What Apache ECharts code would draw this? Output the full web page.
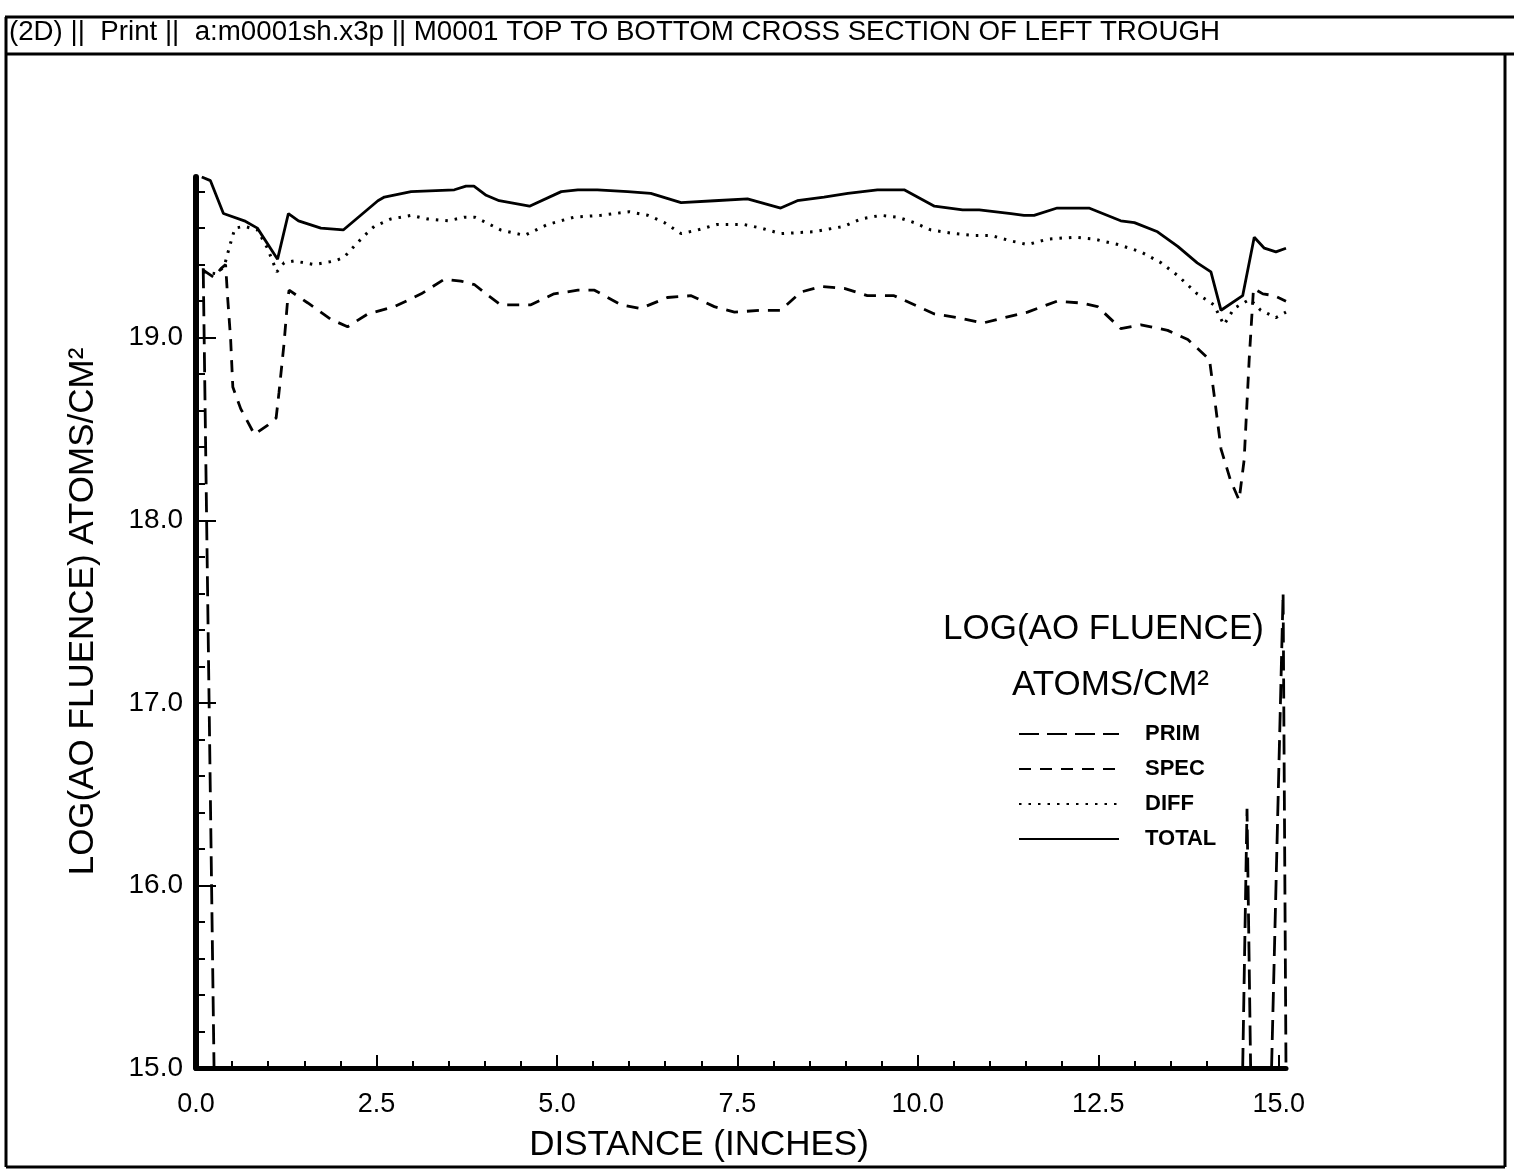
<!DOCTYPE html>
<html>
<head>
<meta charset="utf-8">
<script src="https://cdn.jsdelivr.net/npm/echarts@6/dist/echarts.min.js"></script>
<style>
html,body{margin:0;padding:0;background:#fff;}
#chart{width:1514px;height:1172px;}
</style>
</head>
<body>
<div id="chart"></div>
<script>
// ---- tick labels ----
const xMajorTicks = [0, 2.5, 5, 7.5, 10, 12.5, 15];
const xMinorTicks = [0.5,1,1.5,2,3,3.5,4,4.5,5.5,6,6.5,7,8,8.5,9,9.5,10.5,11,11.5,12,13,13.5,14,14.5];
const yMajorTicks = [15, 16, 17, 18, 19];
const yMinorTicks = [15.2,15.4,15.6,15.8,16.2,16.4,16.6,16.8,17.2,17.4,17.6,17.8,18.2,18.4,18.6,18.8,19.2,19.4,19.6,19.8];

// ---- series values: [distance (in), log fluence] ----
const prim = [[0.1,19.38],[0.25,15.0],[0.3,'-'],[14.50,15.0],[14.56,16.42],[14.61,15.0],[14.7,'-'],[14.90,15.0],[15.06,17.6],[15.1,15.0]];
const spec = [[0.1,19.37],[0.25,19.33],[0.35,19.38],[0.41,19.40],[0.44,19.21],[0.48,18.99],[0.51,18.73],[0.62,18.61],[0.81,18.47],[0.99,18.52],[1.11,18.56],[1.15,18.70],[1.22,18.97],[1.27,19.21],[1.29,19.26],[1.55,19.19],[1.87,19.10],[2.10,19.06],[2.38,19.13],[2.75,19.17],[3.12,19.24],[3.44,19.32],[3.67,19.31],[3.86,19.29],[4.05,19.23],[4.22,19.18],[4.64,19.18],[4.96,19.24],[5.29,19.26],[5.52,19.26],[5.89,19.18],[6.16,19.16],[6.53,19.22],[6.86,19.23],[7.18,19.17],[7.46,19.14],[7.83,19.15],[8.10,19.15],[8.38,19.25],[8.66,19.28],[8.98,19.27],[9.30,19.23],[9.67,19.23],[9.95,19.18],[10.23,19.13],[10.55,19.11],[10.90,19.08],[11.20,19.11],[11.52,19.14],[11.93,19.20],[12.26,19.19],[12.49,19.17],[12.81,19.05],[13.09,19.07],[13.46,19.04],[13.74,18.99],[14.04,18.88],[14.10,18.70],[14.20,18.39],[14.33,18.22],[14.45,18.11],[14.52,18.33],[14.59,18.88],[14.65,19.27],[14.78,19.24],[14.94,19.23],[15.1,19.20]];
const diff = [[0.1,19.36],[0.28,19.35],[0.39,19.39],[0.48,19.52],[0.54,19.60],[0.67,19.61],[0.85,19.59],[0.99,19.49],[1.12,19.36],[1.22,19.41],[1.36,19.42],[1.64,19.40],[1.92,19.42],[2.05,19.44],[2.19,19.50],[2.31,19.55],[2.47,19.61],[2.70,19.65],[2.98,19.67],[3.21,19.65],[3.49,19.64],[3.72,19.66],[3.86,19.66],[3.97,19.64],[4.22,19.59],[4.55,19.56],[4.87,19.62],[5.24,19.66],[5.61,19.67],[6.00,19.69],[6.26,19.67],[6.49,19.63],[6.72,19.57],[6.95,19.59],[7.22,19.62],[7.59,19.62],[7.83,19.60],[8.10,19.57],[8.56,19.58],[8.98,19.61],[9.21,19.65],[9.49,19.67],[9.72,19.66],[9.95,19.63],[10.18,19.59],[10.50,19.57],[10.78,19.56],[11.01,19.56],[11.29,19.53],[11.52,19.51],[11.80,19.54],[12.17,19.55],[12.44,19.54],[12.77,19.51],[13.09,19.47],[13.37,19.41],[13.60,19.34],[13.87,19.24],[14.10,19.18],[14.24,19.07],[14.38,19.16],[14.60,19.21],[14.75,19.15],[14.96,19.11],[15.1,19.14]];
const total = [[0.08,19.88],[0.2,19.86],[0.38,19.68],[0.67,19.64],[0.85,19.60],[1.13,19.43],[1.28,19.68],[1.42,19.64],[1.73,19.60],[2.04,19.59],[2.52,19.75],[2.61,19.77],[2.98,19.80],[3.58,19.81],[3.74,19.83],[3.85,19.83],[4.02,19.78],[4.20,19.75],[4.62,19.72],[5.06,19.80],[5.29,19.81],[5.56,19.81],[5.98,19.80],[6.30,19.79],[6.72,19.74],[7.18,19.75],[7.64,19.76],[8.10,19.71],[8.33,19.75],[8.70,19.77],[9.03,19.79],[9.44,19.81],[9.81,19.81],[10.23,19.72],[10.62,19.70],[10.85,19.70],[11.29,19.68],[11.47,19.67],[11.61,19.67],[11.93,19.71],[12.37,19.71],[12.81,19.64],[13.00,19.63],[13.32,19.58],[13.60,19.50],[13.87,19.41],[14.06,19.36],[14.20,19.15],[14.50,19.23],[14.66,19.55],[14.80,19.49],[14.96,19.47],[15.1,19.49]];

const seriesNames = ['PRIM', 'SPEC', 'DIFF', 'TOTAL'];
const titleText = '(2D) ||  Print ||  a:m0001sh.x3p || M0001 TOP TO BOTTOM CROSS SECTION OF LEFT TROUGH';
const xName = 'DISTANCE (INCHES)';
const yName = 'LOG(AO FLUENCE) ATOMS/CM\u00B2';
const legendTitle1 = 'LOG(AO FLUENCE)';
const legendTitle2 = 'ATOMS/CM\u00B2';

const FONT = '"Liberation Sans", Arial, Helvetica, sans-serif';
const chart = echarts.init(document.getElementById('chart'), null, {renderer: 'canvas'});

function fmt(v) { return Number(v).toFixed(1); }
const NOFILL = 'rgba(0,0,0,0)';

const option = {
  backgroundColor: '#fff',
  animation: false,
  grid: {left: 196, right: 228, top: 177, bottom: 104, containLabel: false},
  xAxis: [{
    type: 'value', min: 0, max: 15.1,
    axisLine: {show: true, lineStyle: {color: '#000', width: 5}},
    axisTick: {show: true, inside: true, length: 13, customValues: xMajorTicks, lineStyle: {color: '#000', width: 2}},
    axisLabel: {show: true, customValues: xMajorTicks, formatter: fmt, margin: 23, color: '#000', fontSize: 27, fontFamily: FONT},
    splitLine: {show: false},
    name: xName, nameLocation: 'middle', nameGap: 60,
    nameTextStyle: {color: '#000', fontSize: 35, fontFamily: FONT, padding: [0, 84, 0, 0]}
  }, {
    type: 'value', min: 0, max: 15.1, position: 'bottom',
    axisLine: {show: false},
    axisTick: {show: true, inside: true, length: 7, customValues: xMinorTicks, lineStyle: {color: '#000', width: 2}},
    axisLabel: {show: false},
    splitLine: {show: false}
  }],
  yAxis: [{
    type: 'value', min: 15, max: 19.88,
    axisLine: {show: true, lineStyle: {color: '#000', width: 6}},
    axisTick: {show: true, inside: true, length: 20, customValues: yMajorTicks, lineStyle: {color: '#000', width: 2}},
    axisLabel: {show: true, customValues: yMajorTicks, formatter: fmt, margin: 13, color: '#000', fontSize: 28, fontFamily: FONT},
    splitLine: {show: false},
    name: yName, nameLocation: 'middle', nameGap: 95,
    nameTextStyle: {color: '#000', fontSize: 35, fontFamily: FONT, padding: [0, 0, 0, 22]}
  }, {
    type: 'value', min: 15, max: 19.88, position: 'left',
    axisLine: {show: false},
    axisTick: {show: true, inside: true, length: 9, customValues: yMinorTicks, lineStyle: {color: '#000', width: 2}},
    axisLabel: {show: false},
    splitLine: {show: false}
  }],
  legend: {
    data: seriesNames,
    orient: 'vertical', left: 1013, top: 718,
    itemWidth: 100, itemHeight: 20, itemGap: 13,
    itemStyle: {opacity: 0},
    textStyle: {color: '#000', fontSize: 22, fontWeight: 'bold', fontFamily: FONT, padding: [0, 0, 0, 21]},
    selectedMode: false
  },
  series: [
    {name: 'PRIM', type: 'line', data: prim, symbol: 'none', connectNulls: false, itemStyle: {color: NOFILL},
     lineStyle: {color: '#000', width: 2.8, type: [20, 8]}},
    {name: 'SPEC', type: 'line', data: spec, symbol: 'none', itemStyle: {color: NOFILL},
     lineStyle: {color: '#000', width: 2.8, type: [12, 9]}},
    {name: 'DIFF', type: 'line', data: diff, symbol: 'none', itemStyle: {color: NOFILL},
     lineStyle: {color: '#000', width: 3, type: [2.5, 7]}},
    {name: 'TOTAL', type: 'line', data: total, symbol: 'none', itemStyle: {color: NOFILL},
     lineStyle: {color: '#000', width: 2.8, type: 'solid'}}
  ],
  graphic: [
    {type: 'line', shape: {x1: 5, y1: 17, x2: 1514, y2: 17}, style: {stroke: '#000', lineWidth: 3}},
    {type: 'line', shape: {x1: 5, y1: 54, x2: 1514, y2: 54}, style: {stroke: '#000', lineWidth: 3}},
    {type: 'line', shape: {x1: 6, y1: 17, x2: 6, y2: 1167}, style: {stroke: '#000', lineWidth: 3}},
    {type: 'line', shape: {x1: 1505, y1: 54, x2: 1505, y2: 1167}, style: {stroke: '#000', lineWidth: 3}},
    {type: 'line', shape: {x1: 6, y1: 1167, x2: 1505, y2: 1167}, style: {stroke: '#000', lineWidth: 3}},
    {type: 'text', left: 9, top: 18, style: {text: titleText, fill: '#000', font: '27.7px "Liberation Sans Narrow", "Arial Narrow", ' + FONT}},
    {type: 'text', left: 943, top: 612, style: {text: legendTitle1, fill: '#000', font: '35px ' + FONT}},
    {type: 'text', left: 1012, top: 668, style: {text: legendTitle2, fill: '#000', font: '35px ' + FONT}}
  ]
};
chart.setOption(option);
</script>
</body>
</html>
